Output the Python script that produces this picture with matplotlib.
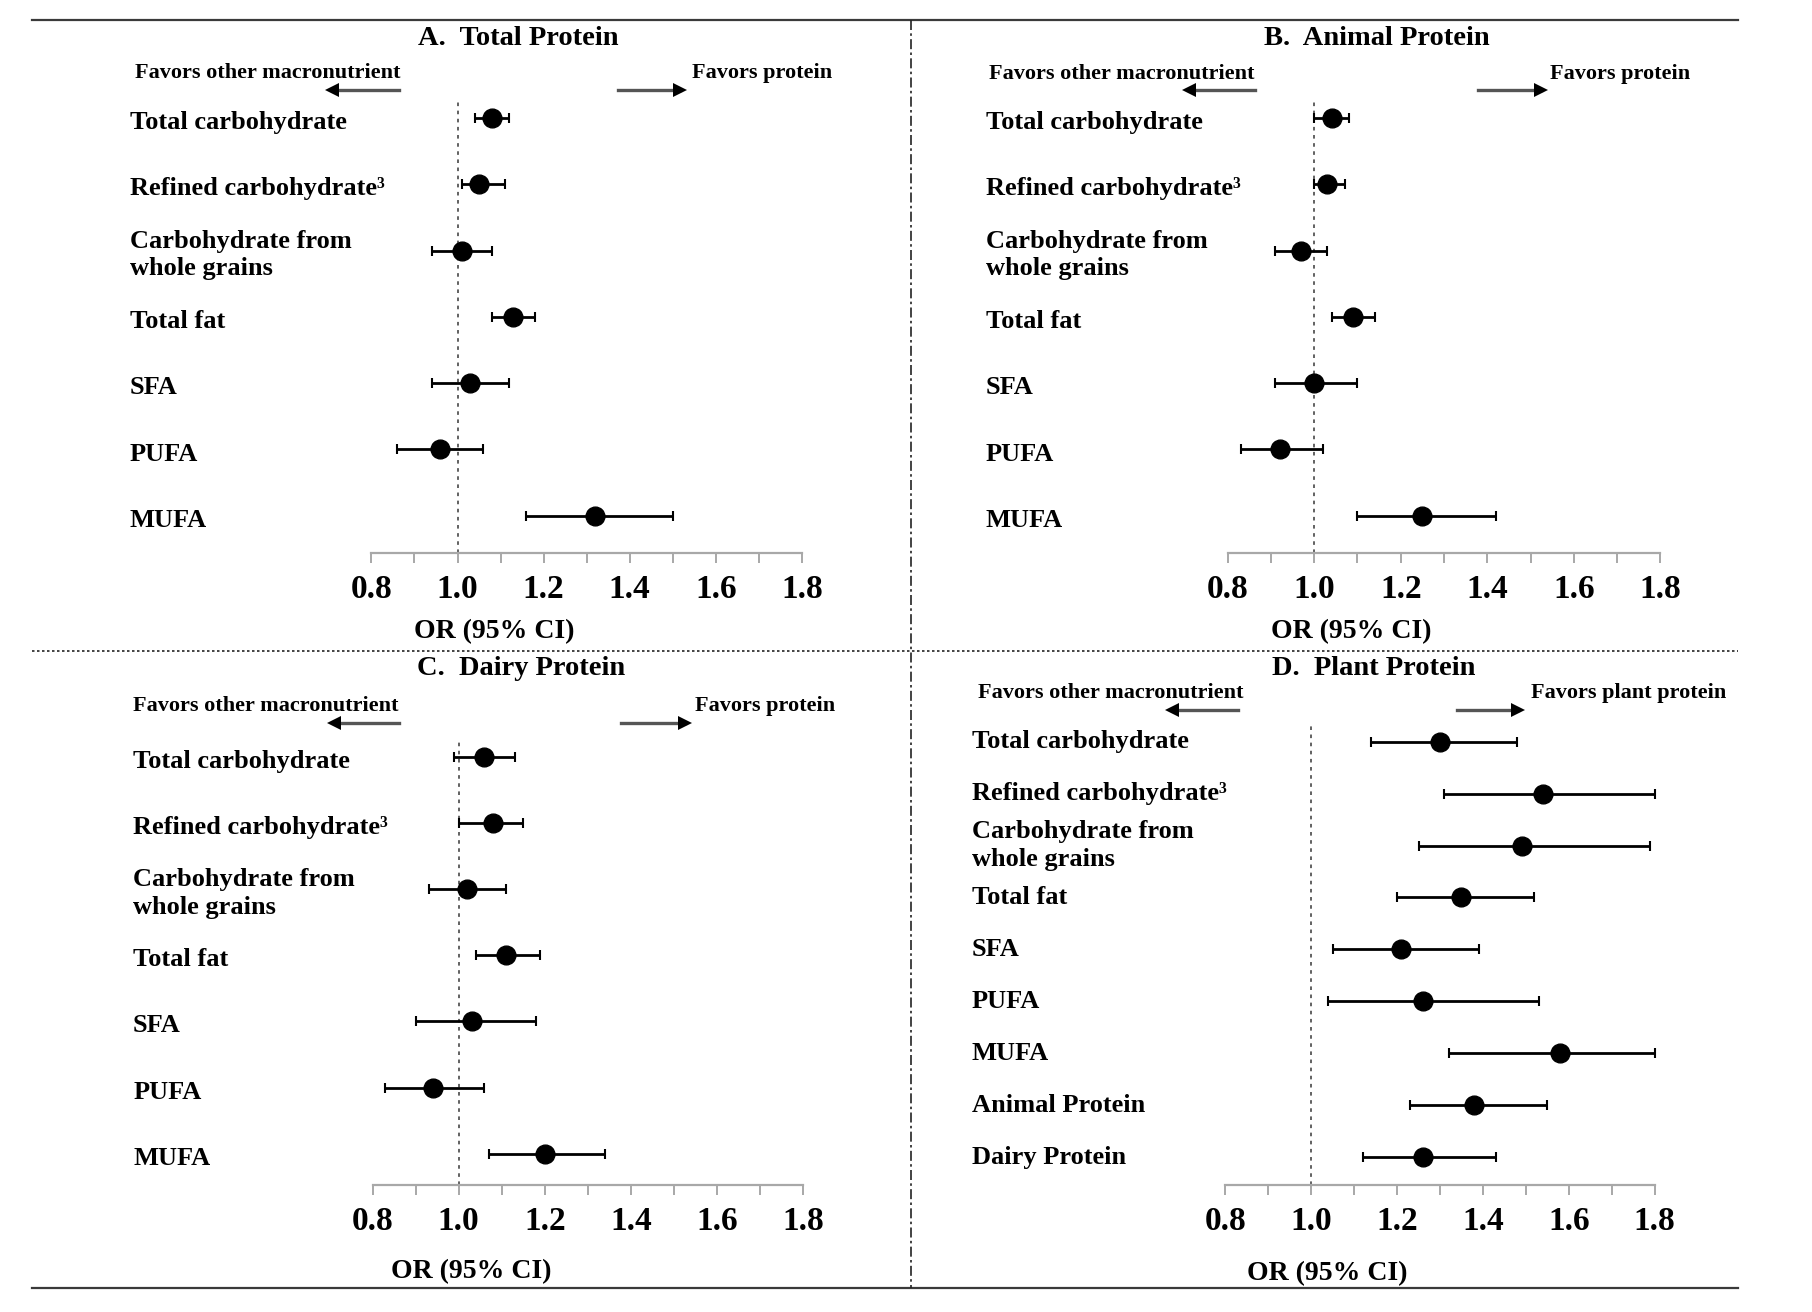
import matplotlib
matplotlib.use("Agg")
import matplotlib.pyplot as plt
from matplotlib.lines import Line2D
from matplotlib.transforms import blended_transform_factory

plt.rcParams['font.family'] = ['Liberation Serif', 'DejaVu Serif']
plt.rcParams['font.weight'] = 'bold'

# ---------------- data ----------------
labels_abc = ["Total carbohydrate", "Refined carbohydrate\u00b3",
              "Carbohydrate from\nwhole grains", "Total fat", "SFA", "PUFA", "MUFA"]
labels_d = labels_abc + ["Animal Protein", "Dairy Protein"]

or_a = [1.08, 1.05, 1.01, 1.13, 1.03, 0.96, 1.32]
lo_a = [1.04, 1.01, 0.94, 1.08, 0.94, 0.86, 1.16]
hi_a = [1.12, 1.11, 1.08, 1.18, 1.12, 1.06, 1.50]

or_b = [1.04, 1.03, 0.97, 1.09, 1.00, 0.92, 1.25]
lo_b = [1.00, 1.00, 0.91, 1.04, 0.91, 0.83, 1.10]
hi_b = [1.08, 1.07, 1.03, 1.14, 1.10, 1.02, 1.42]

or_c = [1.06, 1.08, 1.02, 1.11, 1.03, 0.94, 1.20]
lo_c = [0.99, 1.00, 0.93, 1.04, 0.90, 0.83, 1.07]
hi_c = [1.13, 1.15, 1.11, 1.19, 1.18, 1.06, 1.34]

or_d = [1.30, 1.54, 1.49, 1.35, 1.21, 1.26, 1.58, 1.38, 1.26]
lo_d = [1.14, 1.31, 1.25, 1.20, 1.05, 1.04, 1.32, 1.23, 1.12]
hi_d = [1.48, 1.80, 1.79, 1.52, 1.39, 1.53, 1.80, 1.55, 1.43]

titles = ["A.  Total Protein", "B.  Animal Protein", "C.  Dairy Protein", "D.  Plant Protein"]
left_texts = ["Favors other macronutrient"] * 4
right_texts = ["Favors protein", "Favors protein", "Favors protein", "Favors plant protein"]
xticks = [0.8, 1.0, 1.2, 1.4, 1.6, 1.8]
xlabel = "OR (95% CI)"

# ---------------- layout (reference pixel grid 1566 x 1134) ----------------
W, H = 1566.0, 1134.0
def fx(x): return x / W
def fy(y): return 1 - y / H

fig = plt.figure(figsize=(18.12, 13.12), dpi=100)

# frame lines
fig.add_artist(Line2D([fx(28), fx(1502)], [fy(17), fy(17)], color='#3a3a3a', lw=1.6))
fig.add_artist(Line2D([fx(28), fx(1502)], [fy(1113), fy(1113)], color='#3a3a3a', lw=1.6))
fig.add_artist(Line2D([fx(28), fx(1502)], [fy(563), fy(563)], color='#222222', lw=1.2, ls=(0, (1.5, 1.5))))
fig.add_artist(Line2D([fx(787), fx(787)], [fy(17), fy(1113)], color='#222222', lw=1.2, ls=(0, (6, 2, 1.5, 2))))

panels = [
    dict(lab=labels_abc, v=or_a, lo=lo_a, hi=hi_a, ax=(321, 693, 88, 478), row0=102, step=57.3,
         lab_x=112, lab_off=4, title=(361, 33), ltxt=(117, 63), rtxt=(598, 63),
         larr=(345, 281, 78), rarr=(534, 594, 78), xl=(427, 546)),
    dict(lab=labels_abc, v=or_b, lo=lo_b, hi=hi_b, ax=(1061, 1435, 88, 478), row0=102, step=57.3,
         lab_x=852, lab_off=4, title=(1092, 33), ltxt=(855, 64), rtxt=(1340, 64),
         larr=(1085, 1022, 78), rarr=(1277, 1338, 78), xl=(1168, 546)),
    dict(lab=labels_abc, v=or_c, lo=lo_c, hi=hi_c, ax=(322, 694, 640, 1024), row0=654, step=57.2,
         lab_x=115, lab_off=4, title=(360, 578), ltxt=(115, 610), rtxt=(601, 610),
         larr=(345, 283, 625), rarr=(537, 598, 625), xl=(407, 1099)),
    dict(lab=labels_d, v=or_d, lo=lo_d, hi=hi_d, ax=(1059, 1430, 625, 1024), row0=641, step=44.9,
         lab_x=840, lab_off=0, title=(1099, 578), ltxt=(845, 599), rtxt=(1323, 599),
         larr=(1070, 1007, 614), rarr=(1259, 1318, 614), xl=(1147, 1101)),
]

for i, p in enumerate(panels):
    x0, x1, yt, yb = p['ax']
    ax = fig.add_axes([fx(x0), fy(yb), fx(x1) - fx(x0), fy(yt) - fy(yb)])
    n = len(p['v'])
    ypos = list(range(n))
    ax.set_xlim(0.8, 1.8)
    ymax = (yb - p['row0']) / p['step']
    ymin = (yt - p['row0']) / p['step']
    ax.set_ylim(ymax, ymin)
    xerr = [[v - l for v, l in zip(p['v'], p['lo'])], [h - v for v, h in zip(p['v'], p['hi'])]]
    ax.errorbar(p['v'], ypos, xerr=xerr, fmt='o', color='black', ms=13.5,
                elinewidth=2.0, capsize=3.5, capthick=1.5, clip_on=False, zorder=3)
    ax.axvline(1.0, color='#555555', lw=1.3, ls=(0, (2, 2.5)), zorder=1)
    for s in ['top', 'right', 'left']:
        ax.spines[s].set_visible(False)
    ax.spines['bottom'].set_color('#a8a8a8')
    ax.spines['bottom'].set_linewidth(1.6)
    ax.set_yticks([])
    ax.set_xticks(xticks)
    ax.set_xticks([0.9, 1.1, 1.3, 1.5, 1.7], minor=True)
    ax.set_xticklabels([f"{t:.1f}" for t in xticks], fontsize=24, fontweight='bold')
    ax.tick_params(axis='x', which='both', direction='out', length=7, width=1.4,
                   color='#a8a8a8', pad=8)
    ax.patch.set_alpha(0)

    tr = blended_transform_factory(fig.transFigure, ax.transData)
    off = p['lab_off'] / p['step']
    for j, lab in enumerate(p['lab']):
        ax.text(fx(p['lab_x']), j + off, lab, transform=tr, ha='left', va='center',
                fontsize=19, fontweight='bold', linespacing=1.25)

    fig.text(fx(p['title'][0]), fy(p['title'][1]), titles[i], ha='left', va='center',
             fontsize=20.5, fontweight='bold')
    fig.text(fx(p['ltxt'][0]), fy(p['ltxt'][1]), left_texts[i], ha='left', va='center',
             fontsize=16, fontweight='bold')
    fig.text(fx(p['rtxt'][0]), fy(p['rtxt'][1]), right_texts[i], ha='left', va='center',
             fontsize=16, fontweight='bold')
    fig.text(fx(p['xl'][0]), fy(p['xl'][1]), xlabel, ha='center', va='center',
             fontsize=20, fontweight='bold')

    # arrows
    a0, a1, ay = p['larr']
    fig.add_artist(Line2D([fx(a0), fx(a1 + 6)], [fy(ay), fy(ay)], color='#555555', lw=2.4))
    fig.add_artist(Line2D([fx(a1 + 6)], [fy(ay)], marker='<', ms=10, color='black', mew=0))
    b0, b1, by = p['rarr']
    fig.add_artist(Line2D([fx(b0), fx(b1 - 6)], [fy(by), fy(by)], color='#555555', lw=2.4))
    fig.add_artist(Line2D([fx(b1 - 6)], [fy(by)], marker='>', ms=10, color='black', mew=0))

fig.savefig("out.png", dpi=100, facecolor='white')
